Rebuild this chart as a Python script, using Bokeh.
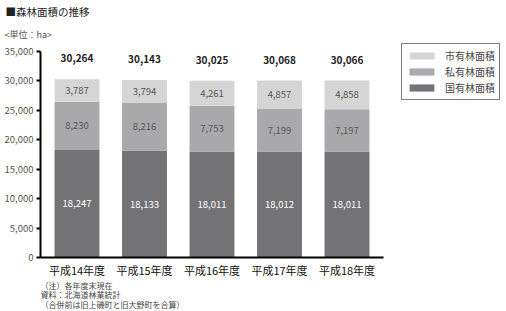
from bokeh.plotting import figure
from bokeh.models import (ColumnDataSource, Range1d, NumeralTickFormatter,
                          FixedTicker, Title, Legend, LegendItem)
from bokeh.core.properties import value
from bokeh.embed import file_html
from bokeh.resources import INLINE

years = ["平成14年度", "平成15年度", "平成16年度", "平成17年度", "平成18年度"]
national = [18247, 18133, 18011, 18012, 18011]   # 国有林面積
private = [8230, 8216, 7753, 7199, 7197]          # 私有林面積
municipal = [3787, 3794, 4261, 4857, 4858]        # 市有林面積
totals = [30264, 30143, 30025, 30068, 30066]
series_names = ["国有林面積", "私有林面積", "市有林面積"]
y_ticks = [0, 5000, 10000, 15000, 20000, 25000, 30000, 35000]

colors = ["#737376", "#a9a9ab", "#d5d5d6"]
FONT = "Noto Sans CJK JP"

xs = list(range(len(years)))
Y_TOP = 35000
y_end = Y_TOP * 214 / 206  # leave room above the top tick for the legend box

p = figure(width=506, height=311, x_range=Range1d(-0.5407, 6.274),
           y_range=Range1d(0, y_end), output_backend="svg", toolbar_location=None,
           min_border_left=40, min_border_right=6, min_border_top=43, min_border_bottom=54)
p.outline_line_color = None
p.grid.visible = False
p.background_fill_color = "white"

src = ColumnDataSource(dict(x=xs, national=national, private=private, municipal=municipal,
                            total=totals))
stack = ["national", "private", "municipal"]
rs = p.vbar_stack(stack, x="x", width=0.665, color=colors, line_color=None, source=src)

def fmt(v):
    return f"{v:,}"

bottoms = [0] * len(years)
seg_colors = ["white", "#555555", "#555555"]
for vals, tc in zip([national, private, municipal], seg_colors):
    centers = [b + v / 2 for b, v in zip(bottoms, vals)]
    s = ColumnDataSource(dict(x=xs, y=centers, t=[fmt(v) for v in vals]))
    p.text(x="x", y="y", text="t", source=s, text_align="center", text_baseline="middle",
           text_font=value(FONT), text_font_size="9.5px", text_color=tc)
    bottoms = [b + v for b, v in zip(bottoms, vals)]

ts = ColumnDataSource(dict(x=xs, y=totals, t=[fmt(v) for v in totals]))
p.text(x="x", y="y", text="t", source=ts, text_align="center", text_baseline="middle",
       y_offset=-21, text_font=value(FONT), text_font_size="10px", text_font_style="bold",
       text_color="#222222")

ya = p.yaxis[0]
ya.ticker = FixedTicker(ticks=y_ticks)
ya.formatter = NumeralTickFormatter(format="0,0")
ya.bounds = (0, Y_TOP)
ya.axis_line_width = 2
ya.axis_line_color = "black"
ya.major_tick_line_width = 2
ya.major_tick_line_color = "black"
ya.major_tick_in = 0
ya.major_tick_out = 4
ya.minor_tick_line_color = None
ya.major_label_text_font = FONT
ya.major_label_text_font_size = "9.5px"
ya.major_label_text_color = "#555555"
ya.major_label_standoff = 3

xa = p.xaxis[0]
xa.ticker = FixedTicker(ticks=xs)
xa.major_label_overrides = {i: y for i, y in zip(xs, years)}
xa.bounds = (-0.5407, len(years) - 0.46)
xa.axis_line_width = 2
xa.axis_line_color = "black"
xa.major_tick_line_color = None
xa.minor_tick_line_color = None
xa.major_tick_in = 0
xa.major_tick_out = 0
xa.minor_tick_in = 0
xa.minor_tick_out = 0
xa.major_label_text_font = FONT
xa.major_label_text_font_size = "11px"
xa.major_label_text_color = "#111111"
xa.major_label_standoff = 4

legend = Legend(items=[LegendItem(label=series_names[2], renderers=[rs[2]]),
                       LegendItem(label=series_names[1], renderers=[rs[1]]),
                       LegendItem(label=series_names[0], renderers=[rs[0]])],
                location="top_right", orientation="vertical")
legend.border_line_color = "black"
legend.border_line_width = 1
legend.background_fill_color = "white"
legend.background_fill_alpha = 1
legend.glyph_width = 31
legend.glyph_height = 9
legend.label_height = 12
legend.spacing = 1
legend.padding = 4
legend.margin = 0
legend.label_standoff = 8
legend.label_text_font = FONT
legend.label_text_font_size = "10px"
legend.label_text_color = "#444444"
p.add_layout(legend)

def title(text, where, size, color, offset, standoff, valign="bottom"):
    p.add_layout(Title(text=text, align="left", offset=offset, standoff=standoff,
                       vertical_align=valign,
                       text_font=FONT, text_font_size=size, text_color=color,
                       text_font_style="normal"), where)

title("<単位：ha>", "above", "9px", "#555555", -36, 6)
title("■森林面積の推移", "above", "10.5px", "#222222", -35, 4, "top")
title("（注）各年度末現在", "below", "8px", "#444444", 0, -5)
title("資料：北海道林業統計", "below", "8px", "#444444", 0, -3)
title("（合併前は旧上磯町と旧大野町を合算）", "below", "8px", "#444444", 0, -3)

open("out.html", "w").write(file_html(p, INLINE))
